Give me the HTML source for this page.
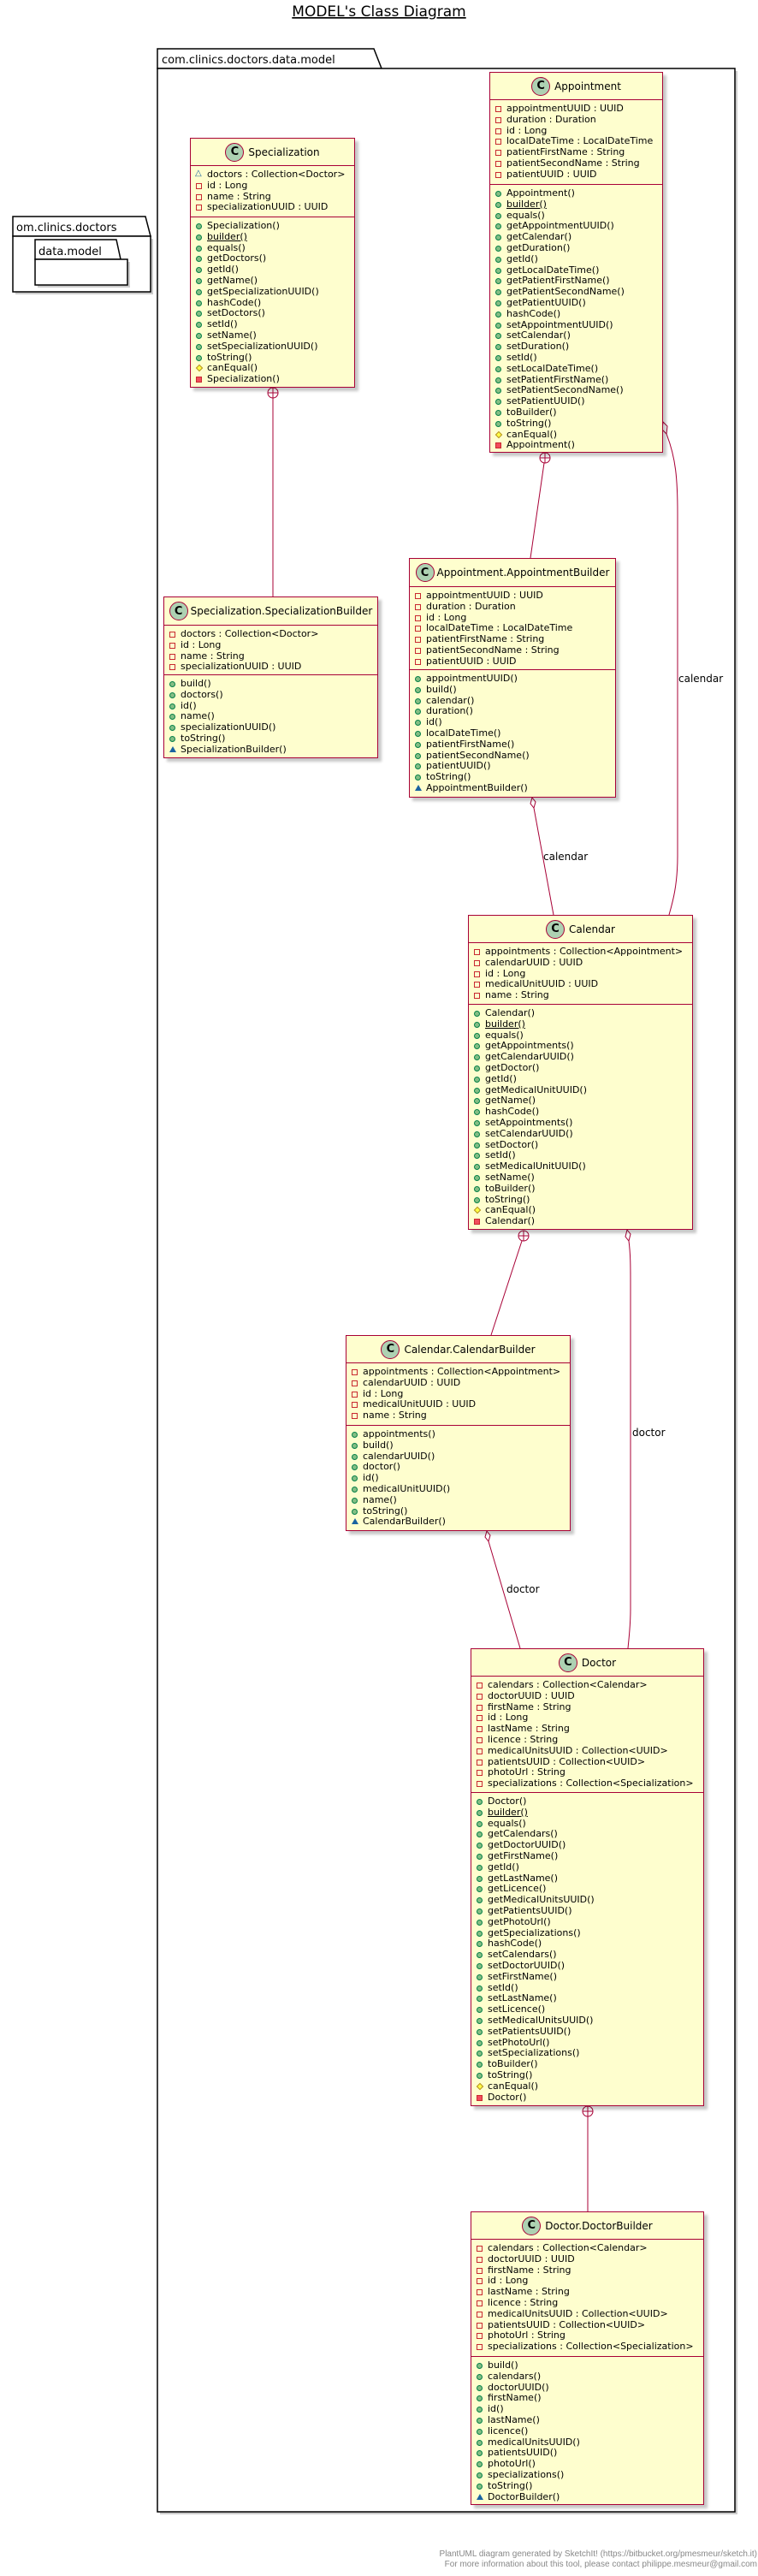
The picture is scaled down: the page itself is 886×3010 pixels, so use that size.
<!DOCTYPE html>
<html><head><meta charset="utf-8">
<style>
html,body{margin:0;padding:0;background:#fff;}
body{width:886px;height:3010px;position:relative;overflow:hidden;font-family:"DejaVu Sans","Liberation Sans",sans-serif;color:#000;}
.b{position:absolute;background:#FEFECE;border:1.5px solid #A80036;box-sizing:border-box;box-shadow:4px 4px 3px rgba(0,0,0,.22);}
.h{position:absolute;left:0;right:0;top:0;display:flex;align-items:center;justify-content:center;gap:5px;font-size:12px;}
.c{width:20px;height:20px;border-radius:50%;background:#ADD1B2;border:1px solid #A80036;display:flex;align-items:center;justify-content:center;font-weight:bold;font-size:13px;flex:none;}
.s{position:absolute;left:0;right:0;border-top:1.5px solid #A80036;padding-top:4px;}
.r{height:12.8px;line-height:12.8px;font-size:11px;padding-left:19px;position:relative;white-space:nowrap;}
.r i{position:absolute;left:6px;top:3px;width:7px;height:7px;box-sizing:border-box;}
i.f{border:1.3px solid #C82930;}
i.p{background:#F24D5C;border:1px solid #C82930;}
i.u{border-radius:50%;background:#84BE84;border:1px solid #038048;}
i.d{width:6px;height:6px;left:7px;top:3px;transform:rotate(45deg);background:#FFFF44;border:1px solid #B38D22;}
i.k{width:0;height:0;top:2px;border-left:4px solid transparent;border-right:4px solid transparent;border-bottom:7px solid #1963A0;box-sizing:content-box;}
i.ko{width:0;height:0;}
i.ko:after{content:"△";position:absolute;left:-1px;top:-4px;font-size:10px;color:#1963A0;font-style:normal;}
.ul{text-decoration:underline;}
svg{position:absolute;left:0;top:0;}
</style></head><body>

<svg width="886" height="3010" viewBox="0 0 886 3010">
<text x="443" y="19" text-anchor="middle" font-family="DejaVu Sans, sans-serif" font-size="17" text-decoration="underline">MODEL's Class Diagram</text>
<rect x="187" y="83" width="675" height="2855" fill="#000" opacity="0.2"/>
<polygon points="184,80 184,57 437,57 446,80" fill="#fff" stroke="#000" stroke-width="1.5"/>
<rect x="184" y="80" width="675" height="2855" fill="#fff" stroke="#000" stroke-width="1.5"/>
<text x="189" y="74" font-family="DejaVu Sans, sans-serif" font-size="13">com.clinics.doctors.data.model</text>
<rect x="18" y="279" width="161" height="65" fill="#000" opacity="0.2"/>
<polygon points="15,276 15,253 170,253 176,276" fill="#fff" stroke="#000" stroke-width="1.5"/>
<rect x="15" y="276" width="161" height="65" fill="#fff" stroke="#000" stroke-width="1.5"/>
<text x="19" y="270" font-family="DejaVu Sans, sans-serif" font-size="13">om.clinics.doctors</text>
<rect x="44" y="306" width="108" height="30" fill="#000" opacity="0.2"/>
<polygon points="41,303 41,280 136,280 141,303" fill="#fff" stroke="#000" stroke-width="1.5"/>
<rect x="41" y="303" width="108" height="30" fill="#fff" stroke="#000" stroke-width="1.5"/>
<text x="45" y="298" font-family="DejaVu Sans, sans-serif" font-size="13">data.model</text>

<g fill="none" stroke="#A80036" stroke-width="1">
<circle cx="319" cy="459" r="6" fill="#fff"/>
<line x1="313" y1="459" x2="325" y2="459"/><line x1="319" y1="453" x2="319" y2="465"/>
<line x1="319" y1="465" x2="319" y2="697"/>
<circle cx="637" cy="535" r="6" fill="#fff"/>
<line x1="631" y1="535" x2="643" y2="535"/><line x1="637" y1="529" x2="637" y2="541"/>
<line x1="636" y1="541" x2="620" y2="652"/>
<polygon points="775,493 780,498 779,507 774,502" fill="#fff"/>
<path d="M779,507 C790,535 792,560 792,600 L792,1000 C792,1035 786,1055 782,1069"/>
<polygon points="622,932 626,937 624,944 620,939" fill="#fff"/>
<line x1="624" y1="944" x2="647" y2="1069"/>
<circle cx="612" cy="1444" r="6" fill="#fff"/>
<line x1="606" y1="1444" x2="618" y2="1444"/><line x1="612" y1="1438" x2="612" y2="1450"/>
<line x1="610" y1="1450" x2="574" y2="1560"/>
<polygon points="733,1437 737,1442 735,1450 731,1445" fill="#fff"/>
<path d="M735,1450 C737,1465 737,1480 737,1500 L737,1880 C737,1900 735,1915 734,1926"/>
<polygon points="569,1789 573,1794 571,1801 567,1796" fill="#fff"/>
<line x1="571" y1="1801" x2="608" y2="1926"/>
<circle cx="687" cy="2467" r="6" fill="#fff"/>
<line x1="681" y1="2467" x2="693" y2="2467"/><line x1="687" y1="2461" x2="687" y2="2473"/>
<line x1="687" y1="2473" x2="687" y2="2584"/>
</g>
<g font-family="DejaVu Sans, sans-serif" font-size="12" fill="#000">
<text x="793" y="797">calendar</text>
<text x="635" y="1005">calendar</text>
<text x="739" y="1678">doctor</text>
<text x="592" y="1861">doctor</text>
</g>
<g font-family="Liberation Sans, sans-serif" font-size="10" fill="#888" text-anchor="end">
<text x="885" y="2987">PlantUML diagram generated by SketchIt! (https://bitbucket.org/pmesmeur/sketch.it)</text>
<text x="885" y="2999">For more information about this tool, please contact philippe.mesmeur@gmail.com</text>
</g>
</svg>

<div class="b" style="left:222px;top:161px;width:193px;height:292px;">
<div class="h" style="height:31px;"><span class="c">C</span>Specialization</div>
<div class="s" style="top:31px;">
<div class="r"><i class="ko"></i>doctors : Collection&lt;Doctor&gt;</div>
<div class="r"><i class="f"></i>id : Long</div>
<div class="r"><i class="f"></i>name : String</div>
<div class="r"><i class="f"></i>specializationUUID : UUID</div>
</div>
<div class="s" style="top:91px;">
<div class="r"><i class="u"></i>Specialization()</div>
<div class="r"><i class="u"></i><span class="ul">builder()</span></div>
<div class="r"><i class="u"></i>equals()</div>
<div class="r"><i class="u"></i>getDoctors()</div>
<div class="r"><i class="u"></i>getId()</div>
<div class="r"><i class="u"></i>getName()</div>
<div class="r"><i class="u"></i>getSpecializationUUID()</div>
<div class="r"><i class="u"></i>hashCode()</div>
<div class="r"><i class="u"></i>setDoctors()</div>
<div class="r"><i class="u"></i>setId()</div>
<div class="r"><i class="u"></i>setName()</div>
<div class="r"><i class="u"></i>setSpecializationUUID()</div>
<div class="r"><i class="u"></i>toString()</div>
<div class="r"><i class="d"></i>canEqual()</div>
<div class="r"><i class="p"></i>Specialization()</div>
</div>
</div>

<div class="b" style="left:572px;top:84px;width:203px;height:445px;">
<div class="h" style="height:31px;"><span class="c">C</span>Appointment</div>
<div class="s" style="top:31px;">
<div class="r"><i class="f"></i>appointmentUUID : UUID</div>
<div class="r"><i class="f"></i>duration : Duration</div>
<div class="r"><i class="f"></i>id : Long</div>
<div class="r"><i class="f"></i>localDateTime : LocalDateTime</div>
<div class="r"><i class="f"></i>patientFirstName : String</div>
<div class="r"><i class="f"></i>patientSecondName : String</div>
<div class="r"><i class="f"></i>patientUUID : UUID</div>
</div>
<div class="s" style="top:130px;">
<div class="r"><i class="u"></i>Appointment()</div>
<div class="r"><i class="u"></i><span class="ul">builder()</span></div>
<div class="r"><i class="u"></i>equals()</div>
<div class="r"><i class="u"></i>getAppointmentUUID()</div>
<div class="r"><i class="u"></i>getCalendar()</div>
<div class="r"><i class="u"></i>getDuration()</div>
<div class="r"><i class="u"></i>getId()</div>
<div class="r"><i class="u"></i>getLocalDateTime()</div>
<div class="r"><i class="u"></i>getPatientFirstName()</div>
<div class="r"><i class="u"></i>getPatientSecondName()</div>
<div class="r"><i class="u"></i>getPatientUUID()</div>
<div class="r"><i class="u"></i>hashCode()</div>
<div class="r"><i class="u"></i>setAppointmentUUID()</div>
<div class="r"><i class="u"></i>setCalendar()</div>
<div class="r"><i class="u"></i>setDuration()</div>
<div class="r"><i class="u"></i>setId()</div>
<div class="r"><i class="u"></i>setLocalDateTime()</div>
<div class="r"><i class="u"></i>setPatientFirstName()</div>
<div class="r"><i class="u"></i>setPatientSecondName()</div>
<div class="r"><i class="u"></i>setPatientUUID()</div>
<div class="r"><i class="u"></i>toBuilder()</div>
<div class="r"><i class="u"></i>toString()</div>
<div class="r"><i class="d"></i>canEqual()</div>
<div class="r"><i class="p"></i>Appointment()</div>
</div>
</div>

<div class="b" style="left:191px;top:697px;width:251px;height:189px;">
<div class="h" style="height:32px;gap:3px;"><span class="c">C</span>Specialization.SpecializationBuilder</div>
<div class="s" style="top:32px;">
<div class="r"><i class="f"></i>doctors : Collection&lt;Doctor&gt;</div>
<div class="r"><i class="f"></i>id : Long</div>
<div class="r"><i class="f"></i>name : String</div>
<div class="r"><i class="f"></i>specializationUUID : UUID</div>
</div>
<div class="s" style="top:90px;">
<div class="r"><i class="u"></i>build()</div>
<div class="r"><i class="u"></i>doctors()</div>
<div class="r"><i class="u"></i>id()</div>
<div class="r"><i class="u"></i>name()</div>
<div class="r"><i class="u"></i>specializationUUID()</div>
<div class="r"><i class="u"></i>toString()</div>
<div class="r"><i class="k"></i>SpecializationBuilder()</div>
</div>
</div>

<div class="b" style="left:478px;top:652px;width:242px;height:280px;">
<div class="h" style="height:32px;gap:3px;"><span class="c">C</span>Appointment.AppointmentBuilder</div>
<div class="s" style="top:32px;">
<div class="r"><i class="f"></i>appointmentUUID : UUID</div>
<div class="r"><i class="f"></i>duration : Duration</div>
<div class="r"><i class="f"></i>id : Long</div>
<div class="r"><i class="f"></i>localDateTime : LocalDateTime</div>
<div class="r"><i class="f"></i>patientFirstName : String</div>
<div class="r"><i class="f"></i>patientSecondName : String</div>
<div class="r"><i class="f"></i>patientUUID : UUID</div>
</div>
<div class="s" style="top:129px;">
<div class="r"><i class="u"></i>appointmentUUID()</div>
<div class="r"><i class="u"></i>build()</div>
<div class="r"><i class="u"></i>calendar()</div>
<div class="r"><i class="u"></i>duration()</div>
<div class="r"><i class="u"></i>id()</div>
<div class="r"><i class="u"></i>localDateTime()</div>
<div class="r"><i class="u"></i>patientFirstName()</div>
<div class="r"><i class="u"></i>patientSecondName()</div>
<div class="r"><i class="u"></i>patientUUID()</div>
<div class="r"><i class="u"></i>toString()</div>
<div class="r"><i class="k"></i>AppointmentBuilder()</div>
</div>
</div>

<div class="b" style="left:547px;top:1069px;width:263px;height:368px;">
<div class="h" style="height:31px;"><span class="c">C</span>Calendar</div>
<div class="s" style="top:31px;">
<div class="r"><i class="f"></i>appointments : Collection&lt;Appointment&gt;</div>
<div class="r"><i class="f"></i>calendarUUID : UUID</div>
<div class="r"><i class="f"></i>id : Long</div>
<div class="r"><i class="f"></i>medicalUnitUUID : UUID</div>
<div class="r"><i class="f"></i>name : String</div>
</div>
<div class="s" style="top:103px;">
<div class="r"><i class="u"></i>Calendar()</div>
<div class="r"><i class="u"></i><span class="ul">builder()</span></div>
<div class="r"><i class="u"></i>equals()</div>
<div class="r"><i class="u"></i>getAppointments()</div>
<div class="r"><i class="u"></i>getCalendarUUID()</div>
<div class="r"><i class="u"></i>getDoctor()</div>
<div class="r"><i class="u"></i>getId()</div>
<div class="r"><i class="u"></i>getMedicalUnitUUID()</div>
<div class="r"><i class="u"></i>getName()</div>
<div class="r"><i class="u"></i>hashCode()</div>
<div class="r"><i class="u"></i>setAppointments()</div>
<div class="r"><i class="u"></i>setCalendarUUID()</div>
<div class="r"><i class="u"></i>setDoctor()</div>
<div class="r"><i class="u"></i>setId()</div>
<div class="r"><i class="u"></i>setMedicalUnitUUID()</div>
<div class="r"><i class="u"></i>setName()</div>
<div class="r"><i class="u"></i>toBuilder()</div>
<div class="r"><i class="u"></i>toString()</div>
<div class="r"><i class="d"></i>canEqual()</div>
<div class="r"><i class="p"></i>Calendar()</div>
</div>
</div>

<div class="b" style="left:404px;top:1560px;width:263px;height:229px;">
<div class="h" style="height:31px;"><span class="c">C</span>Calendar.CalendarBuilder</div>
<div class="s" style="top:31px;">
<div class="r"><i class="f"></i>appointments : Collection&lt;Appointment&gt;</div>
<div class="r"><i class="f"></i>calendarUUID : UUID</div>
<div class="r"><i class="f"></i>id : Long</div>
<div class="r"><i class="f"></i>medicalUnitUUID : UUID</div>
<div class="r"><i class="f"></i>name : String</div>
</div>
<div class="s" style="top:104px;">
<div class="r"><i class="u"></i>appointments()</div>
<div class="r"><i class="u"></i>build()</div>
<div class="r"><i class="u"></i>calendarUUID()</div>
<div class="r"><i class="u"></i>doctor()</div>
<div class="r"><i class="u"></i>id()</div>
<div class="r"><i class="u"></i>medicalUnitUUID()</div>
<div class="r"><i class="u"></i>name()</div>
<div class="r"><i class="u"></i>toString()</div>
<div class="r"><i class="k"></i>CalendarBuilder()</div>
</div>
</div>

<div class="b" style="left:550px;top:1926px;width:273px;height:535px;">
<div class="h" style="height:31px;"><span class="c">C</span>Doctor</div>
<div class="s" style="top:31px;">
<div class="r"><i class="f"></i>calendars : Collection&lt;Calendar&gt;</div>
<div class="r"><i class="f"></i>doctorUUID : UUID</div>
<div class="r"><i class="f"></i>firstName : String</div>
<div class="r"><i class="f"></i>id : Long</div>
<div class="r"><i class="f"></i>lastName : String</div>
<div class="r"><i class="f"></i>licence : String</div>
<div class="r"><i class="f"></i>medicalUnitsUUID : Collection&lt;UUID&gt;</div>
<div class="r"><i class="f"></i>patientsUUID : Collection&lt;UUID&gt;</div>
<div class="r"><i class="f"></i>photoUrl : String</div>
<div class="r"><i class="f"></i>specializations : Collection&lt;Specialization&gt;</div>
</div>
<div class="s" style="top:167px;">
<div class="r"><i class="u"></i>Doctor()</div>
<div class="r"><i class="u"></i><span class="ul">builder()</span></div>
<div class="r"><i class="u"></i>equals()</div>
<div class="r"><i class="u"></i>getCalendars()</div>
<div class="r"><i class="u"></i>getDoctorUUID()</div>
<div class="r"><i class="u"></i>getFirstName()</div>
<div class="r"><i class="u"></i>getId()</div>
<div class="r"><i class="u"></i>getLastName()</div>
<div class="r"><i class="u"></i>getLicence()</div>
<div class="r"><i class="u"></i>getMedicalUnitsUUID()</div>
<div class="r"><i class="u"></i>getPatientsUUID()</div>
<div class="r"><i class="u"></i>getPhotoUrl()</div>
<div class="r"><i class="u"></i>getSpecializations()</div>
<div class="r"><i class="u"></i>hashCode()</div>
<div class="r"><i class="u"></i>setCalendars()</div>
<div class="r"><i class="u"></i>setDoctorUUID()</div>
<div class="r"><i class="u"></i>setFirstName()</div>
<div class="r"><i class="u"></i>setId()</div>
<div class="r"><i class="u"></i>setLastName()</div>
<div class="r"><i class="u"></i>setLicence()</div>
<div class="r"><i class="u"></i>setMedicalUnitsUUID()</div>
<div class="r"><i class="u"></i>setPatientsUUID()</div>
<div class="r"><i class="u"></i>setPhotoUrl()</div>
<div class="r"><i class="u"></i>setSpecializations()</div>
<div class="r"><i class="u"></i>toBuilder()</div>
<div class="r"><i class="u"></i>toString()</div>
<div class="r"><i class="d"></i>canEqual()</div>
<div class="r"><i class="p"></i>Doctor()</div>
</div>
</div>

<div class="b" style="left:550px;top:2584px;width:273px;height:343px;">
<div class="h" style="height:31px;"><span class="c">C</span>Doctor.DoctorBuilder</div>
<div class="s" style="top:31px;">
<div class="r"><i class="f"></i>calendars : Collection&lt;Calendar&gt;</div>
<div class="r"><i class="f"></i>doctorUUID : UUID</div>
<div class="r"><i class="f"></i>firstName : String</div>
<div class="r"><i class="f"></i>id : Long</div>
<div class="r"><i class="f"></i>lastName : String</div>
<div class="r"><i class="f"></i>licence : String</div>
<div class="r"><i class="f"></i>medicalUnitsUUID : Collection&lt;UUID&gt;</div>
<div class="r"><i class="f"></i>patientsUUID : Collection&lt;UUID&gt;</div>
<div class="r"><i class="f"></i>photoUrl : String</div>
<div class="r"><i class="f"></i>specializations : Collection&lt;Specialization&gt;</div>
</div>
<div class="s" style="top:168px;">
<div class="r"><i class="u"></i>build()</div>
<div class="r"><i class="u"></i>calendars()</div>
<div class="r"><i class="u"></i>doctorUUID()</div>
<div class="r"><i class="u"></i>firstName()</div>
<div class="r"><i class="u"></i>id()</div>
<div class="r"><i class="u"></i>lastName()</div>
<div class="r"><i class="u"></i>licence()</div>
<div class="r"><i class="u"></i>medicalUnitsUUID()</div>
<div class="r"><i class="u"></i>patientsUUID()</div>
<div class="r"><i class="u"></i>photoUrl()</div>
<div class="r"><i class="u"></i>specializations()</div>
<div class="r"><i class="u"></i>toString()</div>
<div class="r"><i class="k"></i>DoctorBuilder()</div>
</div>
</div>

</body></html>
